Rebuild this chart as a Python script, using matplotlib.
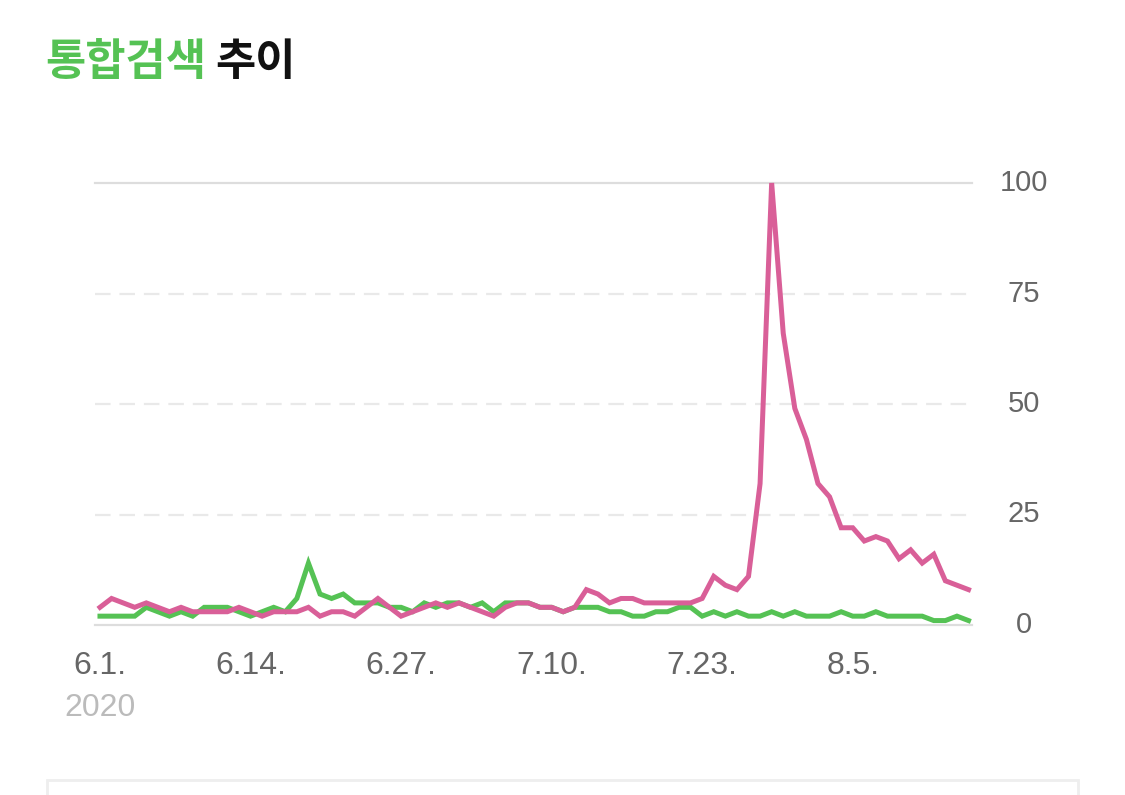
import matplotlib
matplotlib.use("Agg")
import matplotlib.pyplot as plt
from matplotlib.patches import Rectangle
import numpy as np

# ---- data ----
dates_label = ["6.1.", "6.14.", "6.27.", "7.10.", "7.23.", "8.5."]
tick_days = [0, 13, 26, 39, 52, 65]
year_label = "2020"
green_vals = [2, 2, 2, 2, 4, 3, 2, 3, 2, 4, 4, 4, 3, 2, 3, 4, 3, 6, 14, 7,
              6, 7, 5, 5, 5, 4, 4, 3, 5, 4, 5, 5, 4, 5, 3, 5, 5, 5, 4, 4,
              3, 4, 4, 4, 3, 3, 2, 2, 3, 3, 4, 4, 2, 3, 2, 3, 2, 2, 3, 2,
              3, 2, 2, 2, 3, 2, 2, 3, 2, 2, 2, 2, 1, 1, 2, 1]
pink_vals = [4, 6, 5, 4, 5, 4, 3, 4, 3, 3, 3, 3, 4, 3, 2, 3, 3, 3, 4, 2,
             3, 3, 2, 4, 6, 4, 2, 3, 4, 5, 4, 5, 4, 3, 2, 4, 5, 5, 4, 4,
             3, 4, 8, 7, 5, 6, 6, 5, 5, 5, 5, 5, 6, 11, 9, 8, 11, 32, 100, 66,
             49, 42, 32, 29, 22, 22, 19, 20, 19, 15, 17, 14, 16, 10, 9, 8]
y_ticks = [0, 25, 50, 75, 100]

plt.rcParams['font.family'] = ['Liberation Sans', 'DejaVu Sans']

W, H = 1125, 795
fig = plt.figure(figsize=(W / 100, H / 100), dpi=100)
fig.patch.set_facecolor('white')
ax = fig.add_axes([95 / W, (H - 625) / H, (972 - 95) / W, (625 - 183) / H])

days = np.arange(len(green_vals))
ax.set_xlim(-0.43, 75.3)
ax.set_ylim(0, 100)

# grid
for yv in y_ticks:
    if yv in (0, 100):
        ax.axhline(yv, color='#dddddd', lw=1.6, zorder=1, clip_on=False)
    else:
        ax.axhline(yv, color='#e9e9e9', lw=1.6, ls=(0, (7, 4)), zorder=1)

ax.plot(days, green_vals, color='#55C254', lw=3.6, zorder=3, clip_on=False,
        solid_joinstyle='miter')
ax.plot(days, pink_vals, color='#D95F98', lw=3.6, zorder=4, clip_on=False,
        solid_joinstyle='miter')

for s in ax.spines.values():
    s.set_visible(False)
ax.set_xticks([])
ax.set_yticks([])

# y labels on right
xa = (1024 - 95) / (972 - 95)
for yv in y_ticks:
    ax.text(xa, yv, str(yv), transform=ax.get_yaxis_transform(),
            ha='center', va='center', fontsize=21, color='#666666')

# x labels
for d, lab in zip(tick_days, dates_label):
    xp = ax.transData.transform((d, 0))[0]
    fig.text(xp / W, 1 - 666 / H, lab, ha='center', va='center',
             fontsize=23, color='#666666')
x0 = ax.transData.transform((0, 0))[0]
fig.text(x0 / W, 1 - 708 / H, year_label, ha='center', va='center',
         fontsize=23, color='#bbbbbb')

# title
fig.text(45 / W, 1 - 62 / H, "통합검색", ha='left', va='center',
         fontsize=31.5, fontweight='bold', color='#55C254',
         family=['Noto Sans CJK KR', 'DejaVu Sans'])
fig.text(215 / W, 1 - 62 / H, "추이", ha='left', va='center',
         fontsize=31.5, fontweight='bold', color='#111111',
         family=['Noto Sans CJK KR', 'DejaVu Sans'])

# bottom box
fig.patches.append(Rectangle((47 / W, -0.05), (1078 - 47) / W, (H - 780) / H + 0.05,
                             transform=fig.transFigure, fill=False,
                             edgecolor='#eeeeee', lw=2))

fig.savefig("out.png", dpi=100, facecolor='white')
